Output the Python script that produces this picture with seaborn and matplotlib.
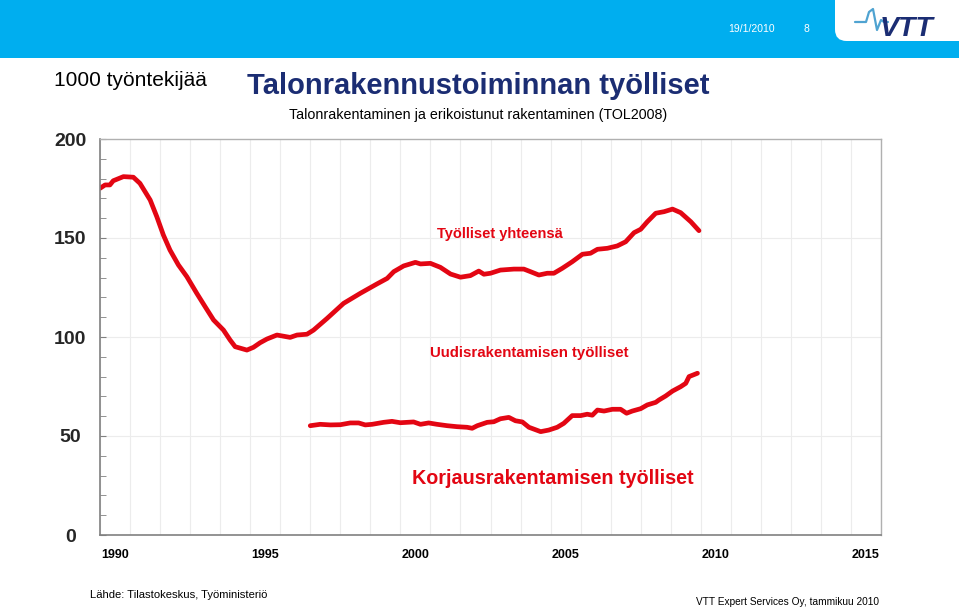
import matplotlib
matplotlib.use("Agg")
import matplotlib.pyplot as plt
from matplotlib.patches import FancyBboxPatch, Rectangle
import seaborn as sns
import pandas as pd
import numpy as np

# ---------------- data ----------------
total_years = [1990.0, 1990.17, 1990.33, 1990.44, 1990.78, 1991.11, 1991.33, 1991.5, 1991.67,
               1991.89, 1992.11, 1992.33, 1992.61, 1992.89, 1993.22, 1993.5, 1993.78, 1994.11,
               1994.33, 1994.5, 1994.89, 1995.11, 1995.33, 1995.56, 1995.89, 1996.33, 1996.56,
               1996.89, 1997.11, 1997.56, 1998.11, 1998.67, 1999.22, 1999.56, 1999.78, 2000.11,
               2000.5, 2000.67, 2001.0, 2001.33, 2001.67, 2002.0, 2002.33, 2002.61, 2002.78,
               2003.0, 2003.33, 2003.78, 2004.11, 2004.33, 2004.61, 2004.89, 2005.11, 2005.39,
               2005.72, 2006.06, 2006.33, 2006.56, 2006.89, 2007.22, 2007.5, 2007.78, 2008.0,
               2008.22, 2008.5, 2008.78, 2009.06, 2009.33, 2009.67, 2009.94]
total_values = [175.1, 176.8, 176.8, 178.9, 181.0, 180.7, 177.6, 173.4, 169.2,
                160.8, 151.5, 143.9, 136.4, 130.5, 122.1, 115.3, 108.6, 103.5,
                98.5, 95.1, 93.4, 94.8, 97.1, 99.0, 101.0, 99.8, 101.0,
                101.4, 103.5, 109.4, 117.0, 122.1, 126.8, 129.6, 133.0, 135.9,
                137.7, 136.9, 137.2, 135.2, 131.8, 130.2, 131.0, 133.3, 131.7,
                132.2, 133.8, 134.3, 134.3, 133.0, 131.3, 132.2, 132.2, 134.7,
                138.0, 141.8, 142.3, 144.3, 144.8, 146.0, 148.1, 152.7, 154.4,
                158.2, 162.5, 163.3, 164.6, 162.8, 158.2, 153.7]

sub_years = [1997.0, 1997.33, 1997.67, 1998.0, 1998.33, 1998.61, 1998.83, 1999.06, 1999.44,
             1999.72, 2000.0, 2000.44, 2000.67, 2000.94, 2001.22, 2001.56, 2001.89, 2002.22,
             2002.39, 2002.56, 2002.89, 2003.11, 2003.33, 2003.61, 2003.83, 2004.06, 2004.28,
             2004.44, 2004.67, 2004.94, 2005.22, 2005.44, 2005.72, 2006.0, 2006.22, 2006.39,
             2006.56, 2006.78, 2007.06, 2007.33, 2007.53, 2007.72, 2008.0, 2008.22, 2008.5,
             2008.61, 2008.83, 2009.06, 2009.33, 2009.5, 2009.61, 2009.89]
sub_values = [55.2, 55.9, 55.6, 55.7, 56.6, 56.6, 55.6, 55.9, 56.9,
              57.4, 56.7, 57.1, 55.9, 56.6, 55.9, 55.2, 54.7, 54.4,
              53.9, 55.2, 56.9, 57.2, 58.7, 59.4, 57.7, 57.1, 54.4,
              53.5, 52.2, 53.0, 54.4, 56.4, 60.3, 60.3, 61.0, 60.5,
              63.1, 62.6, 63.5, 63.5, 61.5, 62.6, 63.8, 65.7, 67.0,
              68.2, 70.2, 72.7, 74.9, 76.6, 80.0, 81.7]

x_tick_labels = ["1990", "1995", "2000", "2005", "2010", "2015"]
y_ticks = [0, 50, 100, 150, 200]

title = "Talonrakennustoiminnan työlliset"
subtitle = "Talonrakentaminen ja erikoistunut rakentaminen (TOL2008)"
y_unit = "1000 työntekijää"
label_total = "Työlliset yhteensä"
label_new = "Uudisrakentamisen työlliset"
label_repair = "Korjausrakentamisen työlliset"
source = "Lähde: Tilastokeskus, Työministeriö"
credit = "VTT Expert Services Oy, tammikuu 2010"
date_text = "19/1/2010"
page_text = "8"

df = pd.concat([
    pd.DataFrame({"year": total_years, "value": total_values, "series": "total"}),
    pd.DataFrame({"year": sub_years, "value": sub_values, "series": "sub"}),
])

# ---------------- style ----------------
sns.set_style("white")
REG = ["Liberation Sans", "DejaVu Sans"]
plt.rcParams["font.family"] = REG

RED = "#E30613"
NAVY = "#1B2D73"
BLUE = "#00AEEF"

fig = plt.figure(figsize=(9.59, 6.09), dpi=100)
fig.patch.set_facecolor("white")

# header band
fig.patches.append(Rectangle((0, 1 - 58 / 609), 1, 58 / 609, transform=fig.transFigure,
                             facecolor=BLUE, edgecolor="none", zorder=0))
fig.patches.append(FancyBboxPatch((835 / 959, 1 - 41 / 609), 140 / 959, 60 / 609,
                                  boxstyle="round,pad=0,rounding_size=0.012",
                                  transform=fig.transFigure, facecolor="white",
                                  edgecolor="none", zorder=1, mutation_aspect=959 / 609))
fig.text(752 / 959, 1 - 29 / 609, date_text, color="white", fontsize=7.5,
         ha="center", va="center")
fig.text(806 / 959, 1 - 29 / 609, page_text, color="white", fontsize=7.5,
         ha="center", va="center")
# VTT logo
fig.text(907 / 959, 1 - 29 / 609, "VTT", color=NAVY, fontsize=20.5, fontweight="bold",
         fontstyle="italic", ha="center", va="center", zorder=3)
lx = np.array([855, 866, 869, 873, 877, 881, 884, 888]) / 959
ly = 1 - np.array([22, 22, 12, 9, 30, 20, 22, 22]) / 609
fig.add_artist(plt.Line2D(lx, ly, transform=fig.transFigure, color="#4FA3D1", lw=1.6, zorder=2))

# titles
fig.text(478 / 959, 1 - 86 / 609, title, color=NAVY, fontsize=21, fontweight="bold",
         ha="center", va="center")
fig.text(478 / 959, 1 - 115 / 609, subtitle, color="black", fontsize=10.3,
         ha="center", va="center")
fig.text(54 / 959, 1 - 81 / 609, y_unit, color="black", fontsize=15,
         ha="left", va="center")

# axes
ax = fig.add_axes([100 / 959, 1 - 535 / 609, 781 / 959, 396 / 609])
sns.lineplot(data=df[df.series == "total"], x="year", y="value", ax=ax,
             color=RED, lw=3.4, legend=False, sort=False)
sns.lineplot(data=df[df.series == "sub"], x="year", y="value", ax=ax,
             color=RED, lw=3.4, legend=False, sort=False)

ax.set_xlim(1990, 2016)
ax.set_ylim(0, 200)
ax.set_xlabel("")
ax.set_ylabel("")

year_edges = np.arange(1990, 2017)
ax.set_xticks(year_edges)
ax.set_xticklabels([""] * len(year_edges))
ax.set_xticks([int(t) + 0.5 for t in x_tick_labels], minor=True)
ax.set_xticklabels(x_tick_labels, minor=True, fontweight="bold")
ax.tick_params(axis="x", which="major", direction="out", length=5, color="#808080", width=1)
ax.tick_params(axis="x", which="minor", length=0, pad=10, labelsize=9, labelcolor="black")

ax.set_yticks(y_ticks)
ax.set_yticklabels([str(v) for v in y_ticks], fontweight="bold", ha="center")
ax.set_yticks(np.arange(0, 201, 10), minor=True)
ax.tick_params(axis="y", which="major", direction="in", length=4, color="#808080",
               pad=21.5, labelsize=14)
ax.tick_params(axis="y", which="minor", direction="in", length=4, color="#808080")
ax.tick_params(axis="y", which="both", left=True)

ax.grid(False)
for x in year_edges:
    ax.axvline(x, color="#ECECEC", lw=0.8, zorder=0)
for y in [50, 100, 150]:
    ax.axhline(y, color="#ECECEC", lw=0.8, zorder=0)

for side in ["left", "bottom"]:
    ax.spines[side].set_color("#808080")
    ax.spines[side].set_linewidth(1.2)
for side in ["top", "right"]:
    ax.spines[side].set_color("#B0B0B0")
    ax.spines[side].set_linewidth(1.0)
    ax.spines[side].set_visible(True)

# series labels
ax.text(2003.3, 152, label_total, color=RED, fontsize=10.5, fontweight="bold",
        ha="center", va="center")
ax.text(2004.3, 92, label_new, color=RED, fontsize=10.8, fontweight="bold",
        ha="center", va="center")
ax.text(2005.07, 28.3, label_repair, color=RED, fontsize=14.2, fontweight="bold",
        ha="center", va="center")

# footer
fig.text(90 / 959, 1 - 595 / 609, source, color="black", fontsize=8.1,
         ha="left", va="center")
fig.text(879 / 959, 1 - 602 / 609, credit, color="black", fontsize=7.3,
         ha="right", va="center")

fig.savefig("out.png", dpi=100, facecolor="white")
